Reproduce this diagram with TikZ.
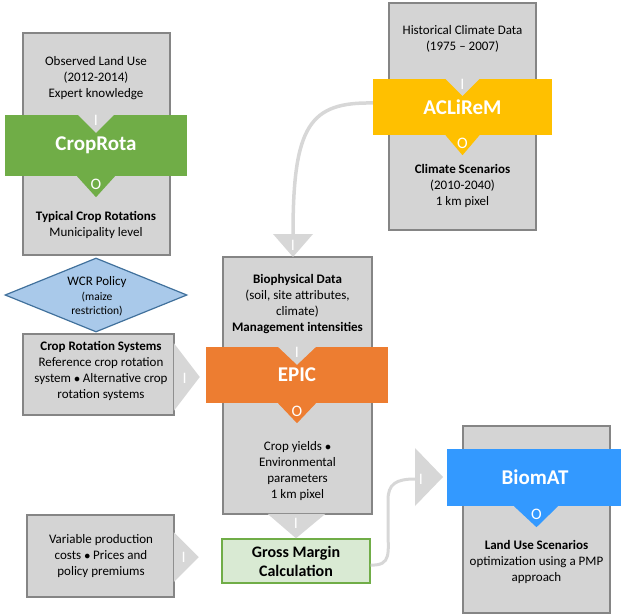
\documentclass[tikz,border=0pt]{standalone}
\usepackage{fontspec}
\setmainfont{Carlito}
\usetikzlibrary{shapes.geometric}
\definecolor{boxfill}{HTML}{D4D4D4}
\definecolor{boxedge}{HTML}{858585}
\definecolor{flowgray}{HTML}{D7D7D7}
\definecolor{cropgreen}{HTML}{70AD47}
\definecolor{climyellow}{HTML}{FFC000}
\definecolor{epicorange}{HTML}{ED7D31}
\definecolor{biomblue}{HTML}{3399FF}
\definecolor{policyfill}{HTML}{A9C9EA}
\definecolor{policyedge}{HTML}{41719C}
\definecolor{gmfill}{HTML}{D9EAD3}
\begin{document}
\begin{tikzpicture}[x=1pt,y=-1pt,
  databox/.style={draw=boxedge, fill=boxfill, line width=1.5pt, inner sep=0pt},
  band/.style={inner sep=0pt, text=white, font=\fontsize{21}{24}\selectfont\bfseries},
  body/.style={align=center, font=\fontsize{13}{16}\selectfont, inner sep=0pt},
  small/.style={align=center, font=\fontsize{11.5}{14}\selectfont, inner sep=0pt},
  io/.style={text=white, font=\fontsize{16}{18}\selectfont, inner sep=0pt},
  flow/.style={draw=flowgray, line width=3.5pt},
]
\useasboundingbox (0,0) rectangle (621,615);

% ---------- CropRota ----------
\node[databox, minimum width=147pt, minimum height=222pt] (cropbox) at (96.5,144) {};
\node[body] (cropin) at (96,78) {Observed Land Use\\(2012-2014)\\Expert knowledge};
\node[body] (cropout) at (96,225) {\textbf{Typical Crop Rotations}\\Municipality level};
\node[band, fill=cropgreen, minimum width=182pt, minimum height=61pt] (crop) at (96,145.5) {CropRota};
\fill[boxfill] ([xshift=-18pt]crop.north) -- ([xshift=18pt]crop.north) -- ([yshift=-18pt]crop.north) -- cycle;
\node[io] at ([yshift=-6pt]crop.north) {I};
\fill[cropgreen] ([xshift=-19pt]crop.south) -- ([xshift=19pt]crop.south) -- ([yshift=-21pt]crop.south) -- cycle;
\node[io] at ([yshift=-8pt]crop.south) {O};

% ---------- ACLiReM ----------
\node[databox, minimum width=147pt, minimum height=227pt] (aclbox) at (462.5,116.5) {};
\node[body] (aclin) at (462.5,39) {Historical Climate Data\\(1975 – 2007)};
\node[body] (aclout) at (462.5,186) {\textbf{Climate Scenarios}\\(2010-2040)\\1 km pixel};
\node[band, fill=climyellow, minimum width=179pt, minimum height=56pt] (acl) at (462.5,107) {ACLiReM};
\fill[boxfill] ([xshift=-17pt]acl.north) -- ([xshift=17pt]acl.north) -- ([yshift=-17pt]acl.north) -- cycle;
\node[io] at ([yshift=-6pt]acl.north) {I};
\fill[climyellow] ([xshift=-17pt]acl.south) -- ([xshift=17pt]acl.south) -- ([yshift=-20pt]acl.south) -- cycle;
\node[io] at ([yshift=-8pt]acl.south) {O};

% ---------- EPIC ----------
\node[databox, minimum width=149pt, minimum height=257pt] (epicbox) at (297.5,385.5) {};
\node[body] (epicin) at (297.5,304) {\textbf{Biophysical Data}\\(soil, site attributes,\\climate)\\\textbf{Management intensities}};
\node[body] (epicout) at (297.5,471.5) {Crop yields $\bullet$\\Environmental\\parameters\\1 km pixel};
\node[band, fill=epicorange, minimum width=182pt, minimum height=56pt] (epic) at (297,375) {EPIC};
\fill[boxfill] ([xshift=-19pt]epic.north) -- ([xshift=19pt]epic.north) -- ([yshift=-18pt]epic.north) -- cycle;
\node[io] at ([yshift=-6pt]epic.north) {I};
\fill[epicorange] ([xshift=-19pt]epic.south) -- ([xshift=19pt]epic.south) -- ([yshift=-20pt]epic.south) -- cycle;
\node[io] at ([yshift=-8pt]epic.south) {O};

% ---------- BiomAT ----------
\node[databox, minimum width=147pt, minimum height=187pt] (biobox) at (536.5,519.5) {};
\node[body] (bioout) at (536.5,562) {\textbf{Land Use Scenarios}\\optimization using a PMP\\approach};
\node[band, fill=biomblue, minimum width=176pt, minimum height=57pt] (bio) at (535,477.5) {BiomAT};
\fill[biomblue] ([xshift=-21pt]bio.south) -- ([xshift=23pt]bio.south) -- ([xshift=1.5pt,yshift=-21pt]bio.south) -- cycle;
\node[io] at ([xshift=1.5pt,yshift=-8pt]bio.south) {O};

% ---------- WCR policy ----------
\node[diamond, draw=policyedge, fill=policyfill, line width=1.2pt, inner sep=0pt,
      minimum width=182pt, minimum height=74pt] (wcr) at (96,295) {};
\node[body] (wcrtitle) at (97,282) {WCR Policy};
\node[small] (wcrnote) at (97,304) {(maize\\restriction)};

% ---------- Crop rotation systems ----------
\node[databox, minimum width=151pt, minimum height=81pt] (crs) at (98.5,374.5) {};
\node[body] (crstext) at (101,371) {\textbf{Crop Rotation Systems}\\Reference crop rotation\\system $\bullet$ Alternative crop\\rotation systems};
\fill[flowgray] ([xshift=-1pt,yshift=31.5pt]crs.east) -- ([xshift=-1pt,yshift=-36.5pt]crs.east) -- ([xshift=25pt,yshift=-2.5pt]crs.east) -- cycle;
\node[io] at ([xshift=10pt,yshift=-4pt]crs.east) {I};

% ---------- Economic inputs ----------
\node[databox, minimum width=147pt, minimum height=82pt] (var) at (100.5,556) {};
\node[body] (vartext) at (101,556) {Variable production\\costs $\bullet$ Prices and\\policy premiums};
\fill[flowgray] ([xshift=-1pt,yshift=24pt]var.east) -- ([xshift=-1pt,yshift=-26pt]var.east) -- ([xshift=24pt,yshift=-1pt]var.east) -- cycle;
\node[io] at ([xshift=9pt,yshift=-1pt]var.east) {I};

% ---------- Gross margin ----------
\node[draw=cropgreen, fill=gmfill, line width=1.4pt, minimum width=148pt, minimum height=44pt,
      align=center, inner sep=0pt, font=\fontsize{16}{19}\selectfont\bfseries] (gm) at (296,561)
      {Gross Margin\\Calculation};

% ---------- Connectors ----------
\coordinate (epicarrow) at (293,234);
\draw[flow] ([yshift=4pt]acl.west) .. controls (310,102) and (293,125) .. (epicarrow);
\fill[flowgray] ([xshift=-20pt]epicarrow) -- ([xshift=20pt]epicarrow) -- (293,257) -- cycle;
\node[io] at (293,245) {I};

\fill[flowgray] ([xshift=-30pt,yshift=1pt]epicbox.south) -- ([xshift=28pt,yshift=1pt]epicbox.south) -- (gm.north) -- cycle;
\node[io] at (296,523) {I};

\coordinate (bioarrow) at (415,479);
\draw[flow, line width=3pt] ([yshift=-4pt]gm.east) .. controls (392,566) and (388,552) .. (388,530)
   -- (388,500) .. controls (388,484) and (396,479) .. (bioarrow);
\fill[flowgray] (415,448) -- (415,506) -- (443,477) -- cycle;
\node[io] at (421,479) {I};
\end{tikzpicture}
\end{document}
